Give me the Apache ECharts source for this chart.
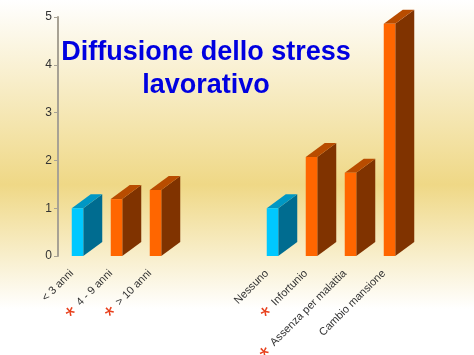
<!DOCTYPE html>
<html>
<head>
<meta charset="utf-8">
<style>
  html, body { margin: 0; padding: 0; background: #fff; }
  #chart { width: 474px; height: 355px; }
</style>
<script src="https://cdn.jsdelivr.net/npm/echarts@6/dist/echarts.min.js"></script>
</head>
<body>
<div id="chart"></div>
<script>
// two blank categories make the gap between the two groups
const categories = ["< 3 anni", "4 - 9 anni", "> 10 anni", "", " ", "Nessuno", "Infortunio", "Assenza per malattia", "Cambio mansione"];
const referenceValues = [1, null, null, null, null, 1, null, null, null];
const otherValues = [null, 1.19, 1.38, null, null, null, 2.07, 1.74, 4.86];
const starred = ["4 - 9 anni", "> 10 anni", "Infortunio", "Assenza per malattia"];
const yTicks = [0, 1, 2, 3, 4, 5];

const chart = echarts.init(document.getElementById("chart"));

const DEPTH_X = 19;
const DEPTH_Y = 14;

function bar3d(front, side, top) {
  return function (params, api) {
    const value = api.value(1);
    if (value === null || value === undefined || isNaN(value)) return null;
    const base = api.coord([api.value(0), 0]);
    const peak = api.coord([api.value(0), value]);
    const w = api.size([1, 0])[0] * 0.295;
    const l = base[0] - w / 2;
    const r = base[0] + w / 2;
    return {
      type: "group",
      children: [
        {
          type: "polygon",
          shape: { points: [[r, peak[1]], [r + DEPTH_X, peak[1] - DEPTH_Y], [r + DEPTH_X, base[1] - DEPTH_Y], [r, base[1]]] },
          style: { fill: side },
        },
        {
          type: "polygon",
          shape: { points: [[l, peak[1]], [l + DEPTH_X, peak[1] - DEPTH_Y], [r + DEPTH_X, peak[1] - DEPTH_Y], [r, peak[1]]] },
          style: { fill: top },
        },
        {
          type: "rect",
          shape: { x: l, y: peak[1], width: w, height: base[1] - peak[1] },
          style: { fill: front },
        },
      ],
    };
  };
}

const option = {
  backgroundColor: {
    type: "linear",
    x: 0, y: 0, x2: 0, y2: 1,
    colorStops: [
      { offset: 0, color: "#ffffff" },
      { offset: 0.52, color: "#efd886" },
      { offset: 0.87, color: "#ffffff" },
      { offset: 1, color: "#ffffff" },
    ],
  },
  animation: false,
  title: {
    text: "Diffusione dello stress\nlavorativo",
    left: 201,
    top: 31,
    textAlign: "center",
    textStyle: {
      fontFamily: "Liberation Sans",
      fontSize: 27,
      fontWeight: "bold",
      color: "#0000e0",
      lineHeight: 33,
    },
  },
  grid: { left: 58, top: 17, width: 351, height: 239, outerBoundsMode: "none" },
  xAxis: {
    type: "category",
    data: categories,
    axisLine: { show: false },
    axisTick: { show: false },
    axisLabel: {
      interval: 0,
      rotate: 45,
      margin: 10,
      padding: [0, 8, 0, 0],
      fontFamily: "Liberation Sans",
      fontSize: 11,
      color: "#333",
      formatter: (v) => (starred.includes(v) ? "{star|*}  " + v : v),
      rich: {
        star: { fontFamily: "Liberation Sans", fontSize: 25, color: "#e8401c", padding: [10, 0, 0, 0] },
      },
    },
  },
  yAxis: {
    type: "value",
    min: yTicks[0],
    max: yTicks[yTicks.length - 1],
    interval: 1,
    splitLine: { show: false },
    axisLine: { show: true, lineStyle: { color: "#a8a294", width: 2 } },
    axisTick: { show: true, length: 4, lineStyle: { color: "#a8a294" } },
    axisLabel: { fontFamily: "Liberation Sans", fontSize: 12, color: "#333", margin: 6 },
  },
  series: [
    {
      type: "custom",
      renderItem: bar3d("#00c8ff", "#006c90", "#0097c4"),
      encode: { x: 0, y: 1 },
      data: referenceValues.map((v, i) => [i, v]),
      clip: false,
    },
    {
      type: "custom",
      renderItem: bar3d("#ff6600", "#803300", "#b84c00"),
      encode: { x: 0, y: 1 },
      data: otherValues.map((v, i) => [i, v]),
      clip: false,
    },
  ],
};

chart.setOption(option);
</script>
</body>
</html>
